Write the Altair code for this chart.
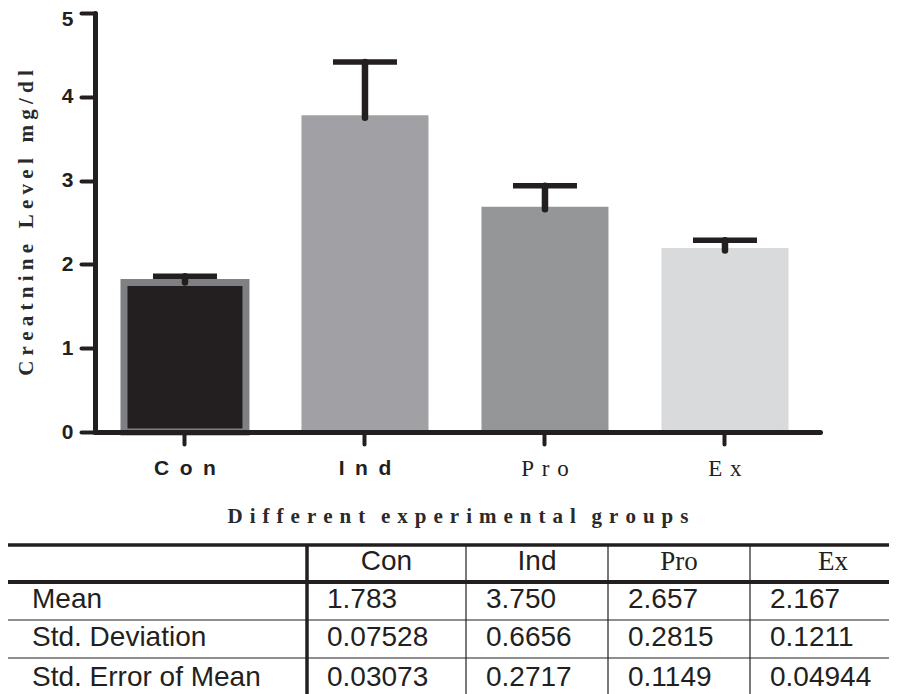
import altair as alt
import pandas as pd

# ---------------- data ----------------
groups = ["Con", "Ind", "Pro", "Ex"]
means = [1.783, 3.750, 2.657, 2.167]
sds = [0.07528, 0.6656, 0.2815, 0.1211]
sems = [0.03073, 0.2717, 0.1149, 0.04944]
row_labels = ["Mean", "Std. Deviation", "Std. Error of Mean"]
y_ticks = [0, 1, 2, 3, 4, 5]
x_title = "Different experimental groups"
y_title = "Creatnine Level  mg/dl"

# ---------------- styles / layout ----------------
bar_fill = ["#231f20", "#a1a1a5", "#959698", "#d9dadc"]
bar_edge = ["#7f8083", "#a1a1a5", "#959698", "#d9dadc"]
INK = "#231f20"
TXT = "#2a2a2a"
SANS = "Liberation Sans"
SERIF = "Liberation Serif"
NB = "\u00a0"

# table layout in page pixels
col_edges = [5, 307, 466, 608, 750, 916]
row_edges = [545, 582, 620, 658, 696]
row_baselines = [570, 608, 645.5, 686]
h_widths = [3.5, 4, 1.2, 1.2, 1.2]
v_widths = [3.5, 3.5, 1.2, 1.2, 1.2]
text_pad_label = 27
text_pad_value = 20


def spaced(s, sep, word_sep):
    return word_sep.join(sep.join(list(w)) for w in s.split())


y_title_sp = spaced(y_title, NB, NB * 3)
x_title_sp = spaced(x_title, "\u2004", NB * 3)
label_map = {
    g: ("\u2002".join(list(g)) if g in ("Con", "Ind") else "\u2004".join(list(g)))
    for g in groups
}
label_expr = "{" + ",".join(f"'{k}':'{v}'" for k, v in label_map.items()) + "}[datum.value]"
is_sans = "datum.value == 'Con' || datum.value == 'Ind'"

df = pd.DataFrame({"group": groups, "mean": means, "sd": sds})

xscale = alt.Scale(domain=groups, paddingInner=0.3222, paddingOuter=0.175, align=0.46)
yscale = alt.Scale(domain=[0, 5], nice=False)

x_axis = alt.Axis(
    title=x_title_sp,
    titleFont=SERIF, titleFontWeight="bold", titleFontSize=21, titleColor=TXT,
    titlePadding=25,
    labelExpr=label_expr,
    labelFont={"condition": {"test": is_sans, "value": SANS}, "value": SERIF},
    labelFontWeight={"condition": {"test": is_sans, "value": "bold"}, "value": "normal"},
    labelFontSize={"condition": {"test": is_sans, "value": 21}, "value": 23},
    labelColor=INK, labelPadding=13, labelAngle=0,
    domainColor=INK, domainWidth=5, domainCap="round",
    tickColor=INK, tickWidth=4, tickSize=12, tickCap="round",
    zindex=1,
)
y_axis = alt.Axis(
    values=y_ticks, format="d", grid=False,
    title=y_title_sp,
    titleFont=SERIF, titleFontWeight="bold", titleFontSize=21, titleColor=TXT,
    titlePadding=25,
    labelFont=SANS, labelFontWeight="bold", labelFontSize=21, labelColor=INK,
    labelPadding=8,
    labelOffset={"condition": {"test": "datum.value == 5", "value": 6}, "value": 0},
    domainColor=INK, domainWidth=5, domainCap="round",
    tickColor=INK, tickWidth=4, tickSize=14, tickCap="round",
    zindex=1,
)

base = alt.Chart(df).encode(
    x=alt.X("group:N", scale=xscale, axis=x_axis, sort=groups)
)
bars = base.mark_bar().encode(
    y=alt.Y("mean:Q", scale=yscale, axis=y_axis),
    fill=alt.Fill("group:N", scale=alt.Scale(domain=groups, range=bar_fill), legend=None),
    stroke=alt.Stroke("group:N", scale=alt.Scale(domain=groups, range=bar_edge), legend=None),
    strokeWidth=alt.condition("datum.group == 'Con'", alt.value(7), alt.value(5)),
)
err = base.transform_calculate(upper="datum.mean + datum.sd").mark_rule(
    color=INK, strokeWidth=6.5, strokeCap="round", opacity=1
).encode(
    y=alt.Y("mean:Q", scale=yscale, axis=y_axis),
    y2="upper:Q",
)
cap = base.transform_calculate(upper="datum.mean + datum.sd").mark_tick(
    color=INK, thickness=5.5, size=64, opacity=1
).encode(
    y=alt.Y("upper:Q", scale=yscale, axis=y_axis),
)
plot_layer = alt.layer(bars, err, cap)

# ---------------- table ----------------
TX = alt.Scale(domain=[0, 897], range=[-95, 802], nice=False, zero=False)
TY = alt.Scale(domain=[0, 694], range=[-13, 681], nice=False, zero=False)

lines = []
for y, w in zip(row_edges, h_widths):
    lines.append({"x": col_edges[0], "x2": col_edges[-1], "y": y, "y2": y, "w": w})
for x, w in zip(col_edges[:-1], v_widths):
    lines.append({"x": x, "x2": x, "y": row_edges[0], "y2": row_edges[-1], "w": w})
lines_df = pd.DataFrame(lines)

rules = alt.Chart(lines_df).mark_rule(color=INK).encode(
    x=alt.X("x:Q", scale=TX, axis=None),
    x2="x2:Q",
    y=alt.Y("y:Q", scale=TY, axis=None),
    y2="y2:Q",
    strokeWidth=alt.StrokeWidth("w:Q", scale=None),
)

header_df = pd.DataFrame({
    "text": groups,
    "x": [(col_edges[i] + col_edges[i + 1]) / 2 for i in range(1, 5)],
    "y": [row_baselines[0]] * 4,
})
head_sans = alt.Chart(header_df).transform_filter(
    "datum.text == 'Con' || datum.text == 'Ind'"
).mark_text(font=SANS, fontSize=28, color=INK, align="center", baseline="alphabetic").encode(
    x=alt.X("x:Q", scale=TX, axis=None), y=alt.Y("y:Q", scale=TY, axis=None), text="text:N"
)
head_serif = alt.Chart(header_df).transform_filter(
    "datum.text == 'Pro' || datum.text == 'Ex'"
).mark_text(font=SERIF, fontSize=27, color=INK, align="center", baseline="alphabetic").encode(
    x=alt.X("x:Q", scale=TX, axis=None), y=alt.Y("y:Q", scale=TY, axis=None), text="text:N"
)

cells = []
stats = [means, sds, sems]
for r, (lab, vals) in enumerate(zip(row_labels, stats)):
    yb = row_baselines[r + 1]
    cells.append({"text": lab, "x": col_edges[0] + text_pad_label, "y": yb})
    for c, v in enumerate(vals):
        cells.append({"text": f"{v:#.4g}", "x": col_edges[c + 1] + text_pad_value, "y": yb})
cells_df = pd.DataFrame(cells)
body = alt.Chart(cells_df).mark_text(
    font=SANS, fontSize=28, color=INK, align="left", baseline="alphabetic"
).encode(
    x=alt.X("x:Q", scale=TX, axis=None), y=alt.Y("y:Q", scale=TY, axis=None), text="text:N"
)
table_layer = alt.layer(rules, head_sans, head_serif, body)

chart = alt.layer(plot_layer, table_layer).resolve_scale(
    x="independent", y="independent"
).properties(
    width=725, height=419,
    padding={"left": 87, "top": 5, "right": 69, "bottom": 262},
    autosize=alt.AutoSizeParams(type="none"),
    background="white",
).configure_view(stroke=None)

chart.save("out.html", embed_options={"renderer": "svg", "actions": False})
